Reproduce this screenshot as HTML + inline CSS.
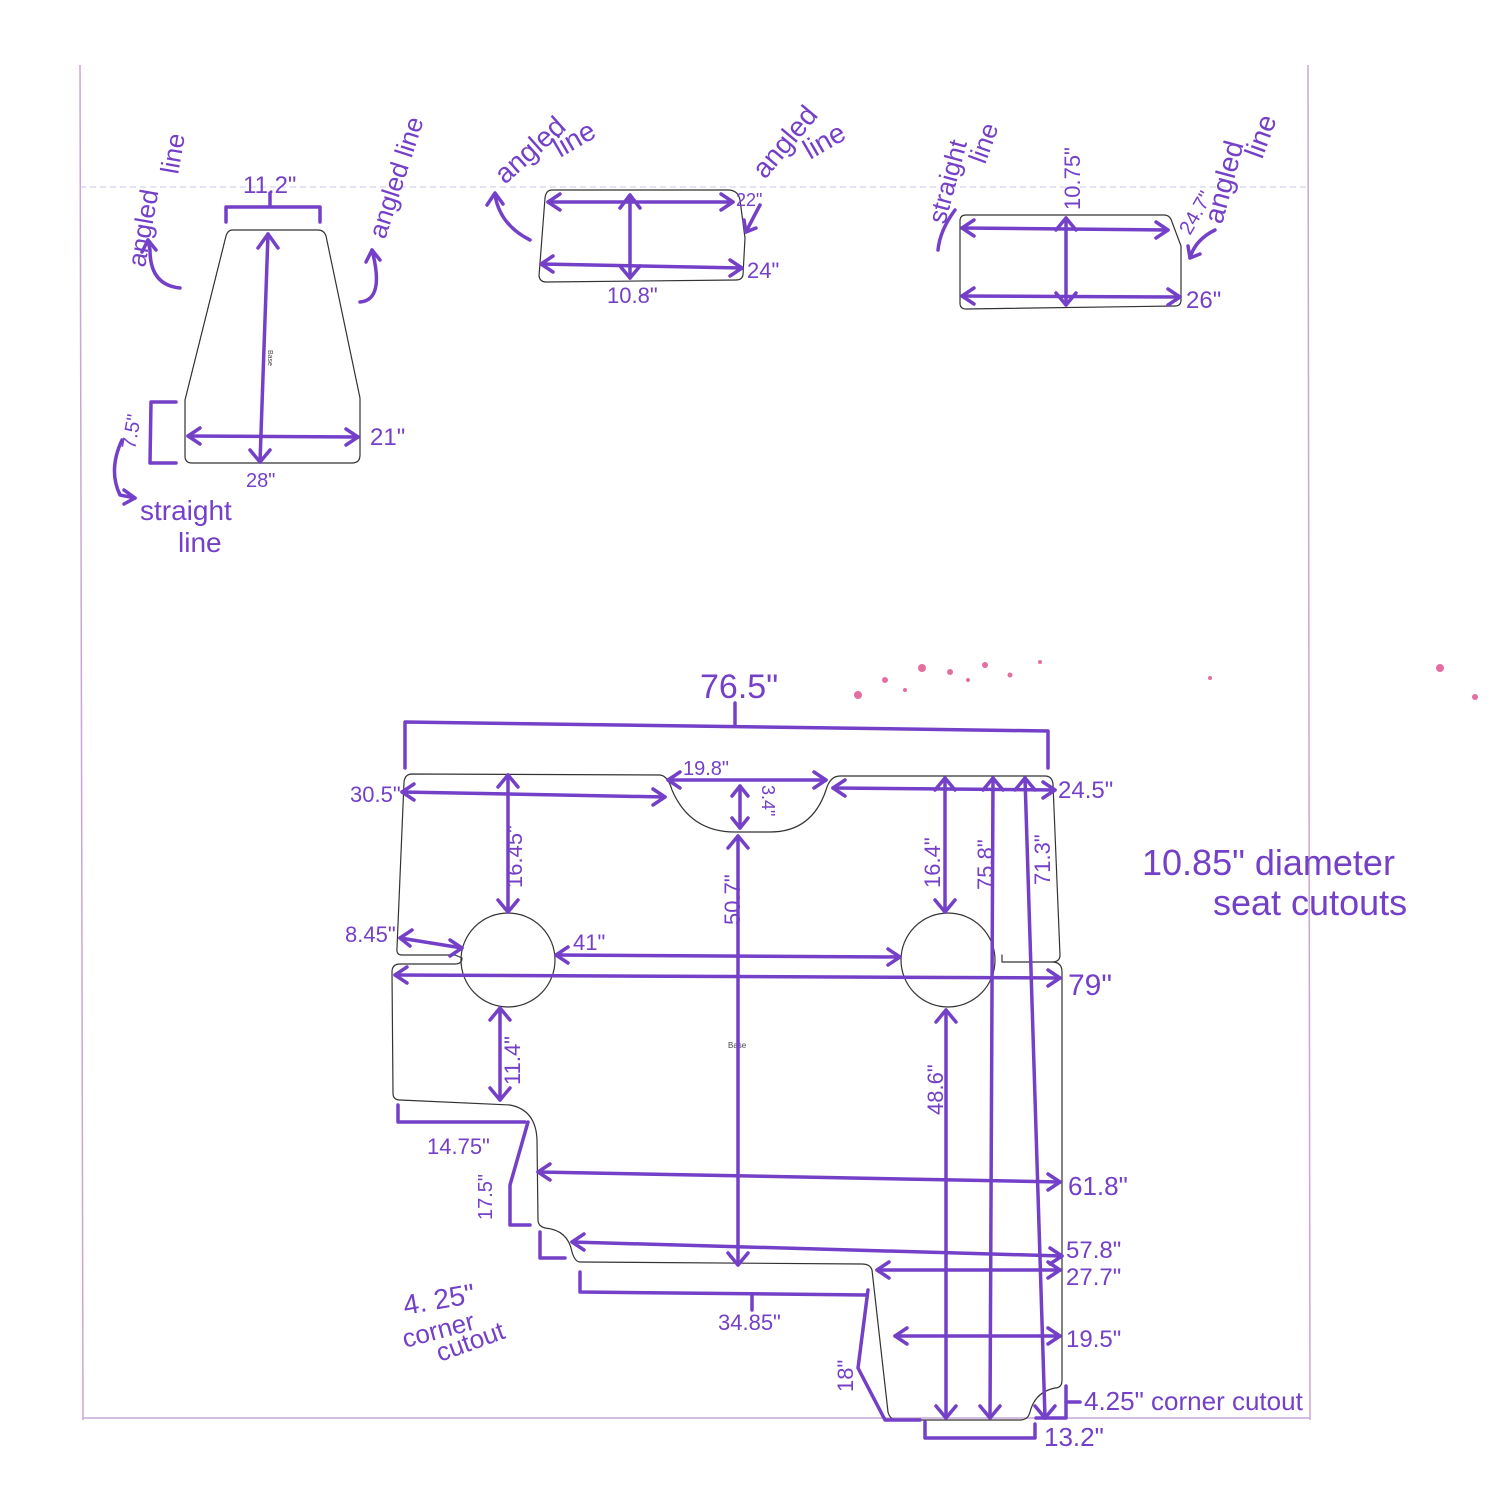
<!DOCTYPE html>
<html><head><meta charset="utf-8"><style>
html,body{margin:0;padding:0;background:#fff;}
svg{display:block}
text{font-family:"Liberation Sans",sans-serif;fill:#7440c8;}
</style></head><body>
<svg width="1500" height="1500" viewBox="0 0 1500 1500" xmlns="http://www.w3.org/2000/svg">
<!-- page border -->
<g stroke="#c9a6d6" stroke-width="1.5" fill="none">
<line x1="80" y1="65" x2="83" y2="1420"/>
<line x1="1308" y1="65" x2="1310" y2="1420"/>
<line x1="83" y1="1418" x2="1310" y2="1418"/>
</g>
<line x1="80" y1="187" x2="1308" y2="187" stroke="#c8c8e4" stroke-width="1" stroke-dasharray="6,4"/>

<!-- pink specks -->
<g fill="#d8337a" opacity="0.7">
<circle cx="858" cy="695" r="4"/><circle cx="885" cy="680" r="3"/><circle cx="922" cy="668" r="4"/><circle cx="950" cy="672" r="3"/><circle cx="985" cy="665" r="3"/><circle cx="1010" cy="675" r="2.5"/><circle cx="1040" cy="662" r="2"/><circle cx="1210" cy="678" r="2"/><circle cx="1440" cy="668" r="4"/><circle cx="1475" cy="697" r="3"/><circle cx="905" cy="690" r="2"/><circle cx="968" cy="680" r="2"/>
</g>

<!-- black shapes -->
<g stroke="#333" stroke-width="1.2" fill="none" stroke-linejoin="round">
<path d="M232 230 L318 230 Q324 230 326 236 L360 398 L360 455 Q360 463 352 463 L192 463 Q185 463 185 456 L185 400 L226 236 Q228 230 232 230 Z"/>
<path d="M552 190 L728 190 Q738 190 740 200 L745 238 L743 275 Q742 280 736 280 L546 282 Q540 282 539 276 L545 198 Q546 190 552 190 Z"/>
<path d="M966 215 L1164 215 Q1170 215 1172 222 L1181 246 L1181 300 Q1181 306 1175 306 L966 309 Q960 309 960 303 L960 221 Q960 215 966 215 Z"/>
<!-- main -->
<path d="M412 774 L660 775 Q668 776 672 790 Q690 832 735 832 L770 832 Q812 832 826 790 Q830 776 840 776 L1045 776 Q1052 776 1053 784 L1060 955 Q1060 962 1052 962 L1002 962 L1002 955 L1002 962 L1052 962 Q1062 962 1062 972 L1062 1380 Q1062 1388 1055 1388 Q1035 1392 1030 1412 Q1028 1420 1020 1420 L897 1420 Q890 1420 888 1412 L872 1270 Q870 1264 862 1264 L580 1262 Q575 1262 572 1252 Q568 1230 545 1228 Q538 1226 538 1220 L537 1140 Q536 1110 510 1105 L400 1100 Q393 1100 393 1093 L392 972 Q392 964 400 964 L455 964 Q462 964 462 958 L455 955 L402 955 Q396 955 397 948 L404 782 Q405 774 412 774 Z"/>
<circle cx="508" cy="960" r="47"/>
<circle cx="948" cy="960" r="47"/>
</g>
<text x="728" y="1048" font-size="8" style="fill:#444">Base</text>
<text x="268" y="350" font-size="7" style="fill:#444" transform="rotate(90 268 350)">Base</text>

<!-- purple annotations -->
<g stroke="#7440c8" stroke-width="3.5" fill="none" stroke-linecap="round" stroke-linejoin="round">
<!-- shape1 -->
<path d="M226 222 L226 207 L320 207 L320 222"/>
<line x1="270" y1="205" x2="270" y2="193"/>
<line x1="268" y1="234" x2="260" y2="462"/>
<path d="M258 248 L268 234 L278 248"/><path d="M250 450 L260 462 L270 450"/>
<line x1="188" y1="436" x2="358" y2="437"/>
<path d="M200 428 L188 436 L200 444"/><path d="M346 429 L358 437 L346 445"/>
<path d="M176 402 L151 402 L150 463 L176 463"/>
<path d="M180 288 Q150 285 150 250 L148 240"/><path d="M142 252 L148 240 L156 250"/>
<path d="M360 302 Q385 300 372 250"/><path d="M366 262 L372 250 L380 260"/>
<path d="M122 440 Q108 470 120 495 L135 498"/><path d="M124 490 L135 498 L124 504"/>
<!-- shape2 -->
<line x1="548" y1="202" x2="733" y2="202"/><path d="M560 194 L548 202 L560 210"/><path d="M721 194 L733 202 L721 210"/>
<line x1="541" y1="264" x2="742" y2="268"/><path d="M553 256 L541 264 L553 272"/><path d="M730 260 L742 268 L730 276"/>
<line x1="630" y1="195" x2="630" y2="278"/><path d="M620 208 L630 195 L640 208"/><path d="M620 266 L630 278 L640 266"/>
<path d="M530 240 Q500 225 495 195"/><path d="M487 205 L495 193 L503 204"/>
<path d="M760 205 Q752 220 746 232"/><path d="M744 220 L746 232 L756 228"/>
<!-- shape3 -->
<line x1="962" y1="228" x2="1168" y2="230"/><path d="M974 220 L962 228 L974 236"/><path d="M1156 222 L1168 230 L1156 238"/>
<line x1="962" y1="296" x2="1180" y2="297"/><path d="M974 288 L962 296 L974 304"/><path d="M1168 289 L1180 297 L1168 305"/>
<line x1="1066" y1="218" x2="1066" y2="305"/><path d="M1056 230 L1066 218 L1076 230"/><path d="M1056 293 L1066 305 L1076 293"/>
<path d="M955 210 Q940 230 938 250"/>
<path d="M1215 230 Q1195 240 1190 258"/><path d="M1188 246 L1190 258 L1200 254"/>
<!-- main -->
<path d="M405 768 L405 722 L1048 731 L1048 768"/><line x1="735" y1="724" x2="735" y2="703"/>
<line x1="402" y1="792" x2="665" y2="797"/><path d="M414 784 L402 792 L414 800"/><path d="M653 789 L665 797 L653 805"/>
<line x1="668" y1="780" x2="826" y2="780"/><path d="M680 772 L668 780 L680 788"/><path d="M814 772 L826 780 L814 788"/>
<line x1="740" y1="786" x2="740" y2="828"/><path d="M732 796 L740 786 L748 796"/><path d="M732 818 L740 828 L748 818"/>
<line x1="833" y1="788" x2="1055" y2="790"/><path d="M845 780 L833 788 L845 796"/><path d="M1043 782 L1055 790 L1043 798"/>
<line x1="508" y1="775" x2="508" y2="912"/><path d="M498 787 L508 775 L518 787"/><path d="M498 900 L508 912 L518 900"/>
<line x1="738" y1="836" x2="738" y2="1265"/><path d="M728 848 L738 836 L748 848"/><path d="M728 1253 L738 1265 L748 1253"/>
<line x1="945" y1="778" x2="945" y2="912"/><path d="M935 790 L945 778 L955 790"/><path d="M935 900 L945 912 L955 900"/>
<line x1="993" y1="778" x2="990" y2="1418"/><path d="M983 790 L993 778 L1003 790"/><path d="M980 1406 L990 1418 L1000 1406"/>
<line x1="1025" y1="778" x2="1045" y2="1418"/><path d="M1015 790 L1025 778 L1035 790"/><path d="M1035 1406 L1045 1418 L1055 1406"/>
<line x1="400" y1="938" x2="462" y2="948"/><path d="M412 930 L400 938 L410 946"/><path d="M450 940 L462 948 L450 956"/>
<line x1="556" y1="955" x2="900" y2="957"/><path d="M568 947 L556 955 L568 963"/><path d="M888 949 L900 957 L888 965"/>
<line x1="395" y1="975" x2="1060" y2="978"/><path d="M407 967 L395 975 L407 983"/><path d="M1048 970 L1060 978 L1048 986"/>
<line x1="500" y1="1008" x2="500" y2="1100"/><path d="M490 1020 L500 1008 L510 1020"/><path d="M490 1088 L500 1100 L510 1088"/>
<line x1="946" y1="1010" x2="946" y2="1418"/><path d="M936 1022 L946 1010 L956 1022"/><path d="M936 1406 L946 1418 L956 1406"/>
<path d="M398 1105 L398 1122 L525 1122"/>
<path d="M528 1122 L510 1185 L510 1225 L530 1225"/>
<line x1="538" y1="1172" x2="1060" y2="1182"/><path d="M550 1164 L538 1172 L550 1180"/><path d="M1048 1174 L1060 1182 L1048 1190"/>
<path d="M540 1232 L540 1258 L565 1258"/>
<line x1="572" y1="1242" x2="1062" y2="1256"/><path d="M584 1234 L572 1242 L584 1250"/><path d="M1050 1248 L1062 1256 L1050 1264"/>
<line x1="877" y1="1270" x2="1060" y2="1270"/><path d="M889 1262 L877 1270 L889 1278"/><path d="M1048 1262 L1060 1270 L1048 1278"/>
<path d="M580 1272 L580 1292 L866 1295"/><line x1="752" y1="1294" x2="752" y2="1310"/>
<line x1="895" y1="1336" x2="1060" y2="1336"/><path d="M907 1328 L895 1336 L907 1344"/><path d="M1048 1328 L1060 1336 L1048 1344"/>
<path d="M868 1290 L858 1368 L885 1420 L920 1420"/>
<path d="M1066 1386 L1066 1418 L1036 1418"/><line x1="1066" y1="1402" x2="1080" y2="1402"/>
<path d="M925 1422 L925 1438 L1035 1438 L1035 1424"/>
</g>

<!-- labels -->
<g font-size="24">
<text x="243" y="193">11.2"</text>
<text x="370" y="445">21"</text>
<text x="246" y="487" font-size="20">28"</text>
<text x="140" y="520" font-size="28">straight</text>
<text x="178" y="552" font-size="28">line</text>
<text x="0" y="0" font-size="26" transform="translate(145 268) rotate(-80)">angled</text>
<text x="0" y="0" font-size="26" transform="translate(178 175) rotate(-80)">line</text>
<text x="0" y="0" font-size="26" transform="translate(385 240) rotate(-72)">angled line</text>
<text x="0" y="0" font-size="20" transform="translate(135 450) rotate(-80)">7.5"</text>
<text x="607" y="303" font-size="22">10.8"</text>
<text x="747" y="278" font-size="22">24"</text>
<text x="736" y="206" font-size="18">22"</text>
<text x="0" y="0" font-size="28" transform="translate(505 185) rotate(-42)">angled</text>
<text x="0" y="0" font-size="28" transform="translate(560 158) rotate(-30)">line</text>
<text x="0" y="0" font-size="28" transform="translate(765 180) rotate(-50)">angled</text>
<text x="0" y="0" font-size="28" transform="translate(810 160) rotate(-30)">line</text>
<text x="0" y="0" font-size="26" transform="translate(945 225) rotate(-75)">straight</text>
<text x="0" y="0" font-size="26" transform="translate(985 165) rotate(-70)">line</text>
<text x="0" y="0" font-size="22" transform="translate(1080 210) rotate(-90)">10.75"</text>
<text x="0" y="0" font-size="20" transform="translate(1190 236) rotate(-60)">24.7"</text>
<text x="0" y="0" font-size="28" transform="translate(1222 225) rotate(-75)">angled</text>
<text x="0" y="0" font-size="28" transform="translate(1262 160) rotate(-70)">line</text>
<text x="1186" y="308" font-size="24">26"</text>
<text x="700" y="698" font-size="34">76.5"</text>
<text x="350" y="802" font-size="22">30.5"</text>
<text x="683" y="775" font-size="20">19.8"</text>
<text x="0" y="0" font-size="18" transform="translate(762 785) rotate(90)">3.4"</text>
<text x="1058" y="798" font-size="24">24.5"</text>
<text x="0" y="0" font-size="22" transform="translate(522 888) rotate(-90)">16.45"</text>
<text x="0" y="0" font-size="22" transform="translate(740 925) rotate(-90)">50.7"</text>
<text x="0" y="0" font-size="22" transform="translate(940 888) rotate(-90)">16.4"</text>
<text x="0" y="0" font-size="22" transform="translate(993 890) rotate(-90)">75.8"</text>
<text x="0" y="0" font-size="22" transform="translate(1050 885) rotate(-90)">71.3"</text>
<text x="1142" y="875" font-size="36">10.85" diameter</text>
<text x="1213" y="915" font-size="36">seat  cutouts</text>
<text x="345" y="942" font-size="22">8.45"</text>
<text x="573" y="950" font-size="22">41"</text>
<text x="1068" y="995" font-size="30">79"</text>
<text x="0" y="0" font-size="22" transform="translate(520 1085) rotate(-90)">11.4"</text>
<text x="0" y="0" font-size="22" transform="translate(943 1115) rotate(-90)">48.6"</text>
<text x="427" y="1154" font-size="22">14.75"</text>
<text x="0" y="0" font-size="20" transform="translate(492 1220) rotate(-90)">17.5"</text>
<text x="1068" y="1195" font-size="26">61.8"</text>
<text x="1066" y="1258" font-size="24">57.8"</text>
<text x="1066" y="1285" font-size="24">27.7"</text>
<text x="1066" y="1347" font-size="24">19.5"</text>
<text x="718" y="1330" font-size="22">34.85"</text>
<text x="0" y="0" font-size="22" transform="translate(853 1392) rotate(-90)">18"</text>
<text x="0" y="0" font-size="28" transform="translate(405 1315) rotate(-10)">4. 25"</text>
<text x="0" y="0" font-size="26" transform="translate(405 1348) rotate(-15)">corner</text>
<text x="0" y="0" font-size="26" transform="translate(440 1362) rotate(-20)">cutout</text>
<text x="1084" y="1410" font-size="26">4.25" corner cutout</text>
<text x="1044" y="1446" font-size="26">13.2"</text>
</g>
</svg>
</body></html>
